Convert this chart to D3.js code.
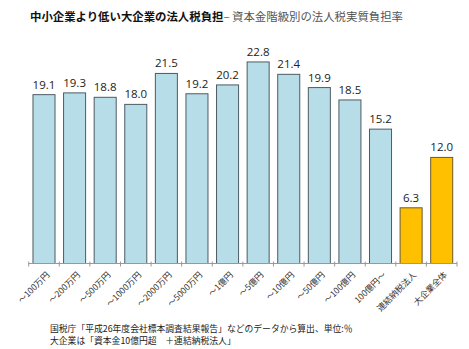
<!DOCTYPE html>
<html><head><meta charset="utf-8">
<script src="https://cdn.jsdelivr.net/npm/d3@7"></script>
<style>body{margin:0;background:#fff}svg{display:block}</style>
</head><body>
<script>
const categories = ["～100万円","～200万円","～500万円","～1000万円","～2000万円","～5000万円","～1億円","～5億円","～10億円","～50億円","～100億円","100億円～","連結納税法人","大企業全体"];
const values = [19.1,19.3,18.8,18.0,21.5,19.2,20.2,22.8,21.4,19.9,18.5,15.2,6.3,12.0];
const highlight = [false,false,false,false,false,false,false,false,false,false,false,false,true,true];
const titleBold = "中小企業より低い大企業の法人税負担";
const titleRest = "– 資本金階級別の法人税実質負担率";
const notes = ["国税庁「平成26年度会社標本調査結果報告」などのデータから算出、単位:％","大企業は「資本金10億円超　＋連結納税法人」"];

const W=469,H=349;
const svg=d3.select("body").append("svg").attr("width",W).attr("height",H);
const jp="'Noto Sans CJK JP', sans-serif";
const x=d3.scaleBand().domain(categories).range([28.7,457]).paddingInner(0.28).paddingOuter(0.14);
const y=d3.scaleLinear().domain([0,25]).range([263.5,263.5-25*8.84]);

const t=svg.append("text").attr("x",30).attr("y",21).attr("font-family",jp).attr("font-size",11.4);
t.append("tspan").attr("font-weight","bold").attr("fill","#111").text(titleBold);
t.append("tspan").attr("fill","#555").text(titleRest);

svg.selectAll("rect.bar").data(values).join("rect").attr("class","bar")
 .attr("x",(d,i)=>x(categories[i])).attr("width",x.bandwidth())
 .attr("y",d=>y(d)).attr("height",d=>y(0)-y(d))
 .attr("fill",(d,i)=>highlight[i]?"#FFC000":"#B7DEE8")
 .attr("stroke",(d,i)=>highlight[i]?"#6b5a2a":"#4d5a63").attr("stroke-width",1);

svg.selectAll("text.val").data(values).join("text").attr("class","val")
 .attr("x",(d,i)=>x(categories[i])+x.bandwidth()/2).attr("y",d=>y(d)-6)
 .attr("text-anchor","middle").attr("font-family","'Open Sans', sans-serif").attr("font-size",11.5).attr("fill","#222")
 .text(d=>d.toFixed(1));

const ax=svg.append("g").attr("transform",`translate(0,${y(0)})`);
ax.append("line").attr("x1",28.7).attr("x2",457).attr("stroke","#999");
const step=x.step();
d3.range(categories.length+1).forEach(i=>{
  const xx=28.7+i*step;
  ax.append("line").attr("x1",xx).attr("x2",xx).attr("y1",-2).attr("y2",3).attr("stroke","#999");
});
ax.selectAll("text.cat").data(categories).join("text").attr("class","cat")
 .attr("transform",d=>`translate(${x(d)+x.bandwidth()/2+6},${12}) rotate(-45)`)
 .attr("text-anchor","end").attr("font-family",jp).attr("font-size",8.6).attr("fill","#333").text(d=>d);

svg.selectAll("text.note").data(notes).join("text").attr("class","note")
 .attr("x",50).attr("y",(d,i)=>332+i*12).attr("font-family",jp).attr("font-size",8.8).attr("fill","#222").text(d=>d);
</script>
</body></html>
